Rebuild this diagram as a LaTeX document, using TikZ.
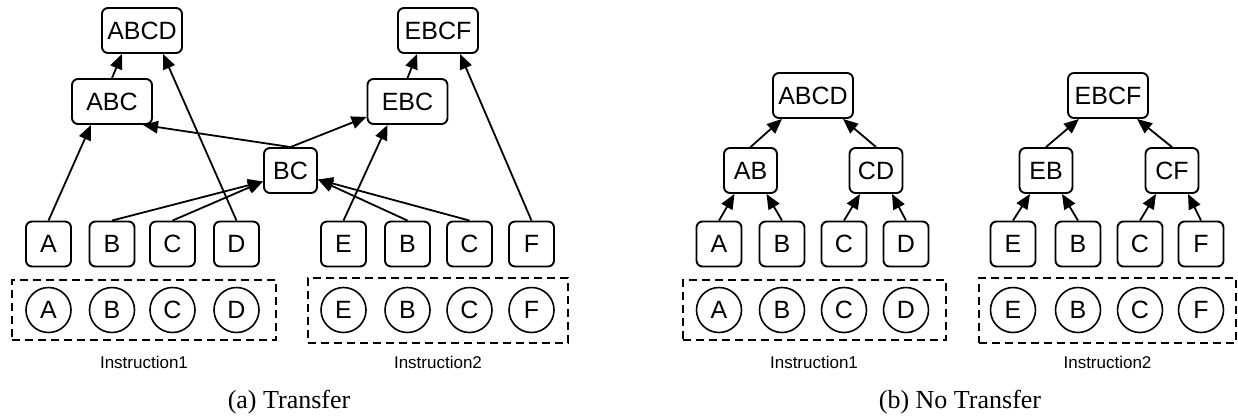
\documentclass[tikz,border=0pt]{standalone}
\usepackage{fontspec}
\setmainfont{Liberation Serif}
\newfontfamily\arialfont{Liberation Sans}
\usetikzlibrary{arrows.meta}
\begin{document}
\begin{tikzpicture}[x=1pt,y=-1pt,
  tok/.style={draw, line width=1.9pt, rounded corners=6pt, inner sep=0pt,
    minimum width=45pt, minimum height=45pt, font=\arialfont\fontsize{25}{30}\selectfont},
  midbox/.style={tok, minimum width=53pt},
  widebox/.style={tok, minimum width=80pt},
  inp/.style={draw, circle, line width=1.6pt, inner sep=0pt, minimum size=45pt,
    font=\arialfont\fontsize{25}{30}\selectfont},
  group/.style={draw, line width=1.8pt, dash pattern=on 8pt off 5pt, inner sep=0pt},
  lbl/.style={font=\arialfont\fontsize{17}{20}\selectfont},
  captiontext/.style={font=\fontsize{26}{30}\selectfont},
  arr/.style={line width=1.8pt, -{Triangle[length=15pt,width=12.5pt]}},
]
\useasboundingbox (0,0) rectangle (1238,416);

% ---------- (a) Transfer ----------
\node[widebox] (lABCD) at (142,30.5) {ABCD};
\node[widebox] (lEBCF) at (438,30.5) {EBCF};
\node[widebox] (lABC) at (112,101.5) {ABC};
\node[widebox] (lEBC) at (407.5,101.5) {EBC};
\node[midbox] (lBC) at (290.5,170.5) {BC};

\node[tok] (lA) at (48.5,244) {A};
\node[tok] (lB) at (112,244) {B};
\node[tok] (lC) at (172.5,244) {C};
\node[tok] (lD) at (236.5,244) {D};
\node[tok] (lE) at (343.5,244) {E};
\node[tok] (lB2) at (407.5,244) {B};
\node[tok] (lC2) at (469.5,244) {C};
\node[tok] (lF) at (531.5,244) {F};

\node[group, minimum width=264pt, minimum height=60pt] (lg1) at (144,310) {};
\node[group, minimum width=260pt, minimum height=65pt] (lg2) at (438,310.5) {};
\node[inp] (liA) at (48.5,310) {A};
\node[inp] (liB) at (112,310) {B};
\node[inp] (liC) at (172.5,310) {C};
\node[inp] (liD) at (236.5,310) {D};
\node[inp] (liE) at (343.5,310) {E};
\node[inp] (liB2) at (407.5,310) {B};
\node[inp] (liC2) at (469.5,310) {C};
\node[inp] (liF) at (531.5,310) {F};
\node[lbl] (lt1) at (144,362.5) {Instruction1};
\node[lbl] (lt2) at (438,362.5) {Instruction2};
\node[captiontext] (lcap) at (289,402) {(a) Transfer};

\draw[arr] (lA.north) -- ([xshift=-21pt]lABC.south);
\draw[arr] (lABC.north) -- ([xshift=-20pt]lABCD.south);
\draw[arr] (lD.north) -- ([xshift=21pt]lABCD.south);
\draw[arr] (lBC.north) -- ([xshift=31pt]lABC.south);
\draw[arr] (lBC.north) -- ([yshift=8pt]lEBC.south west);
\draw[arr] (lE.north) -- ([xshift=-20pt]lEBC.south);
\draw[arr] (lEBC.north) -- ([xshift=-21pt]lEBCF.south);
\draw[arr] (lF.north) -- ([xshift=22pt]lEBCF.south);
\draw[arr] (lB.north) -- ([yshift=-11pt]lBC.west);
\draw[arr] (lC.north) -- ([yshift=-11pt]lBC.west);
\draw[arr] (lB2.north) -- ([yshift=-9pt]lBC.east);
\draw[arr] (lC2.north) -- ([yshift=-9pt]lBC.east);

% ---------- (b) No Transfer ----------
\node[widebox] (rABCD) at (813,95.5) {ABCD};
\node[widebox] (rEBCF) at (1108,95.5) {EBCF};
\node[midbox] (rAB) at (750.5,170.5) {AB};
\node[midbox] (rCD) at (876,170.5) {CD};
\node[midbox] (rEB) at (1046,170.5) {EB};
\node[midbox] (rCF) at (1172,170.5) {CF};

\node[tok] (rA) at (719,244) {A};
\node[tok] (rB) at (782,244) {B};
\node[tok] (rC) at (844,244) {C};
\node[tok] (rD) at (906,244) {D};
\node[tok] (rE) at (1013,244) {E};
\node[tok] (rB2) at (1078,244) {B};
\node[tok] (rC2) at (1140,244) {C};
\node[tok] (rF) at (1201,244) {F};

\node[group, minimum width=263pt, minimum height=60pt] (rg1) at (814.5,310) {};
\node[group, minimum width=257pt, minimum height=65pt] (rg2) at (1107.5,310.5) {};
\node[inp] (riA) at (719,310) {A};
\node[inp] (riB) at (782,310) {B};
\node[inp] (riC) at (844,310) {C};
\node[inp] (riD) at (906,310) {D};
\node[inp] (riE) at (1013,310) {E};
\node[inp] (riB2) at (1078,310) {B};
\node[inp] (riC2) at (1140,310) {C};
\node[inp] (riF) at (1201,310) {F};
\node[lbl] (rt1) at (814,362.5) {Instruction1};
\node[lbl] (rt2) at (1107.5,362.5) {Instruction2};
\node[captiontext] (rcap) at (960,402) {(b) No Transfer};

\draw[arr] (rAB.north) -- ([xshift=-31pt]rABCD.south);
\draw[arr] (rCD.north) -- ([xshift=30pt]rABCD.south);
\draw[arr] (rEB.north) -- ([xshift=-29pt]rEBCF.south);
\draw[arr] (rCF.north) -- ([xshift=29pt]rEBCF.south);
\draw[arr] (rA.north) -- ([xshift=-16pt]rAB.south);
\draw[arr] (rB.north) -- ([xshift=16pt]rAB.south);
\draw[arr] (rC.north) -- ([xshift=-16pt]rCD.south);
\draw[arr] (rD.north) -- ([xshift=16pt]rCD.south);
\draw[arr] (rE.north) -- ([xshift=-16pt]rEB.south);
\draw[arr] (rB2.north) -- ([xshift=16pt]rEB.south);
\draw[arr] (rC2.north) -- ([xshift=-16pt]rCF.south);
\draw[arr] (rF.north) -- ([xshift=16pt]rCF.south);
\end{tikzpicture}
\end{document}
